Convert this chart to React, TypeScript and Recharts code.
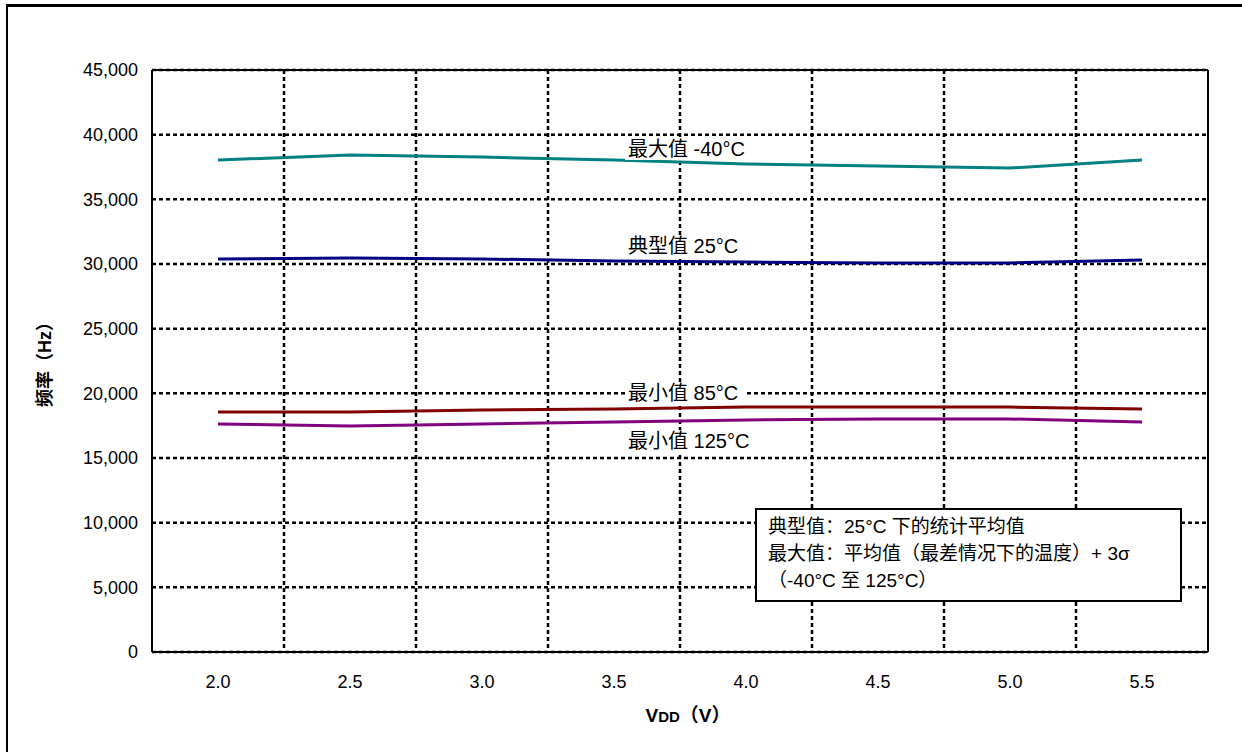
import React from 'react';
import { LineChart, Line, XAxis, YAxis, CartesianGrid, ReferenceDot } from 'recharts';

const vddLabels = ['2.0', '2.5', '3.0', '3.5', '4.0', '4.5', '5.0', '5.5'];
const max40 = [38040, 38430, 38270, 38040, 37730, 37580, 37420, 38040];
const typ25 = [30390, 30460, 30390, 30230, 30150, 30080, 30080, 30310];
const min85 = [18560, 18560, 18710, 18790, 18940, 18940, 18940, 18790];
const min125 = [17630, 17470, 17630, 17780, 17940, 18020, 18020, 17780];
const yTicks = [0, 5000, 10000, 15000, 20000, 25000, 30000, 35000, 40000, 45000];

const seriesNames = ['最大值 -40°C', '典型值 25°C', '最小值 85°C', '最小值 125°C'];

const W = 1242;
const H = 752;
const LATIN = '"Liberation Sans", Arial, "Noto Sans CJK SC", sans-serif';

const makeLabel = (text: string, bgW: number) => (props: any) => {
  const vb = props.viewBox || {};
  const cx = (vb.x || 0) + (vb.width || 0) / 2;
  const cy = (vb.y || 0) + (vb.height || 0) / 2;
  const x = cx + 14;
  return (
    <g>
      <rect x={x - 3} y={cy - 11} width={bgW} height={22} fill="#fff" />
      <text x={x} y={cy} dominantBaseline="central" fontSize={20} fill="#000" fontFamily={LATIN}>
        {text}
      </text>
    </g>
  );
};

export default function App() {
  const data = vddLabels.map((v, i) => ({
    vdd: v,
    max40: max40[i],
    typ25: typ25[i],
    min85: min85[i],
    min125: min125[i],
  }));

  return (
    <div style={{ position: 'fixed', left: 0, top: 0, width: W, height: H, background: '#fff', fontFamily: LATIN, overflow: 'hidden' }}>
      <div style={{ position: 'absolute', left: 6, top: 4, width: W, height: H, borderLeft: '2px solid #000', borderTop: '3px solid #000' }} />
      <LineChart
        width={W}
        height={H}
        data={data}
        margin={{ top: 69, right: 33, bottom: 70, left: 0 }}
        style={{ position: 'absolute', left: 0, top: 0 }}
      >
        <CartesianGrid
          stroke="#000"
          strokeWidth={2.5}
          strokeDasharray="4 3"
          verticalCoordinatesGenerator={(p: any) => {
            const o = p.offset;
            return [1, 2, 3, 4, 5, 6, 7].map((i) => o.left + (o.width * i) / 8);
          }}
        />
        <XAxis
          dataKey="vdd"
          height={30}
          padding={{ left: 66, right: 66 }}
          tickLine={false}
          tickSize={6}
          tickMargin={17}
          axisLine={{ stroke: '#000', strokeWidth: 2 }}
          tick={{ fill: '#000', fontSize: 18, fontFamily: LATIN }}
        />
        <XAxis xAxisId="top" orientation="top" dataKey="vdd" height={1} tick={false} tickLine={false} axisLine={{ stroke: '#000', strokeWidth: 2 }} />
        <YAxis
          width={152}
          domain={[0, 45000]}
          ticks={yTicks}
          interval={0}
          tickLine={false}
          tickSize={6}
          tickMargin={8}
          axisLine={{ stroke: '#000', strokeWidth: 2 }}
          tick={{ fill: '#000', fontSize: 18, fontFamily: LATIN }}
          tickFormatter={(v: number) => v.toLocaleString('en-US')}
        />
        <YAxis yAxisId="right" orientation="right" width={1} domain={[0, 45000]} tick={false} tickLine={false} axisLine={{ stroke: '#000', strokeWidth: 2 }} />
        <Line dataKey="max40" stroke="#008080" strokeWidth={3} dot={false} isAnimationActive={false} type="linear" />
        <Line dataKey="typ25" stroke="#000080" strokeWidth={3} dot={false} isAnimationActive={false} type="linear" />
        <Line dataKey="min85" stroke="#800000" strokeWidth={3} dot={false} isAnimationActive={false} type="linear" />
        <Line dataKey="min125" stroke="#800080" strokeWidth={3} dot={false} isAnimationActive={false} type="linear" />
        <ReferenceDot x="3.5" y={38890} r={1} fill="none" stroke="none" ifOverflow="visible" label={makeLabel(seriesNames[0], 128)} />
        <ReferenceDot x="3.5" y={31390} r={1} fill="none" stroke="none" ifOverflow="visible" label={makeLabel(seriesNames[1], 122)} />
        <ReferenceDot x="3.5" y={20030} r={1} fill="none" stroke="none" ifOverflow="visible" label={makeLabel(seriesNames[2], 122)} />
        <ReferenceDot x="3.5" y={16310} r={1} fill="none" stroke="none" ifOverflow="visible" label={makeLabel(seriesNames[3], 132)} />
      </LineChart>
      <div
        style={{
          position: 'absolute',
          left: 15,
          top: 350,
          width: 60,
          height: 20,
          transform: 'rotate(-90deg)',
          transformOrigin: 'center',
          textAlign: 'center',
          whiteSpace: 'nowrap',
          fontSize: 18,
          fontWeight: 'bold',
          lineHeight: '20px',
          display: 'flex',
          justifyContent: 'center',
        }}
      >
        频率（Hz）
      </div>
      <div
        style={{
          position: 'absolute',
          left: 588,
          top: 704,
          width: 200,
          textAlign: 'center',
          fontSize: 19,
          fontWeight: 'bold',
          lineHeight: '24px',
          whiteSpace: 'nowrap',
        }}
      >
        V<span style={{ fontSize: 15 }}>DD</span>（V）
      </div>
      <div
        style={{
          position: 'absolute',
          left: 755,
          top: 508,
          width: 427,
          height: 94,
          boxSizing: 'border-box',
          border: '2px solid #000',
          background: '#fff',
          padding: '3px 0 0 11px',
          fontSize: 19,
          lineHeight: '27px',
          whiteSpace: 'nowrap',
        }}
      >
        <div>典型值：25°C 下的统计平均值</div>
        <div>最大值：平均值（最差情况下的温度）+ 3σ</div>
        <div>（-40°C 至 125°C）</div>
      </div>
    </div>
  );
}
